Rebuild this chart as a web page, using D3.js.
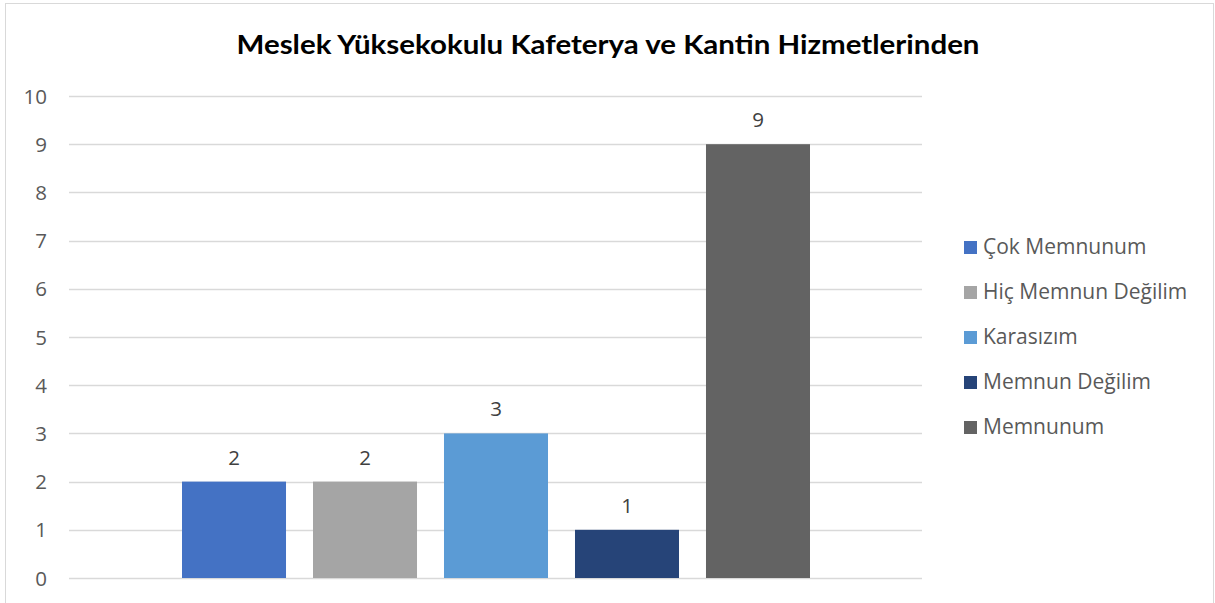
<!DOCTYPE html>
<html><head><meta charset="utf-8">
<script src="https://cdn.jsdelivr.net/npm/d3@7"></script>
<style>body{margin:0;background:#fff;} svg{display:block;} text{font-family:"Open Sans",sans-serif;} .ttl{font-family:Lato,"Open Sans",sans-serif;}</style>
</head><body><svg id="c" width="1215" height="603"></svg>
<script>
const title = "Meslek Yüksekokulu Kafeterya ve Kantin Hizmetlerinden";
const categories = ["Çok Memnunum","Hiç Memnun Değilim","Karasızım","Memnun Değilim","Memnunum"];
const values = [2,2,3,1,9];
const colors = ["#4472C4","#A5A5A5","#5B9BD5","#264478","#636363"];
const yTicks = [0,1,2,3,4,5,6,7,8,9,10];

const svg = d3.select("#c");
svg.append("rect").attr("x",5.5).attr("y",3.5).attr("width",1208).attr("height",620)
  .attr("fill","#fff").attr("stroke","#d9d9d9").attr("stroke-width",1);

svg.append("text").attr("class","ttl").attr("x",608).attr("y",54).attr("text-anchor","middle")
  .attr("font-size",26).attr("font-weight","bold").attr("fill","#000")
  .attr("textLength",743).attr("lengthAdjust","spacingAndGlyphs").text(title);

const y = d3.scaleLinear().domain([0,10]).range([578,96]);
const x = d3.scaleBand().domain(categories).range([69,923]).paddingInner(0.206).paddingOuter(0.8626);

const grid = svg.append("g");
grid.selectAll("line").data(yTicks).join("line")
  .attr("x1",69).attr("x2",922).attr("y1",d=>Math.round(y(d))+0.5).attr("y2",d=>Math.round(y(d))+0.5)
  .attr("stroke","#d9d9d9").attr("stroke-width",1.3);
grid.selectAll("text").data(yTicks).join("text")
  .attr("x",47).attr("y",d=>y(d)+7.5).attr("text-anchor","end")
  .attr("font-size",20.5).attr("fill","#595959").text(d=>d);

svg.append("g").selectAll("rect").data(values).join("rect")
  .attr("x",(d,i)=>x(categories[i])).attr("width",x.bandwidth())
  .attr("y",d=>y(d)).attr("height",d=>y(0)-y(d)).attr("fill",(d,i)=>colors[i]);

svg.append("g").selectAll("text").data(values).join("text")
  .attr("x",(d,i)=>x(categories[i])+x.bandwidth()/2).attr("y",d=>y(d)-17)
  .attr("text-anchor","middle").attr("font-size",20.5).attr("fill","#404040").text(d=>d);

const lg = svg.append("g");
categories.forEach((c,i)=>{
  const yy = 254 + i*45;
  lg.append("rect").attr("x",964).attr("y",yy-13).attr("width",13).attr("height",13).attr("fill",colors[i]);
  lg.append("text").attr("x",983).attr("y",yy).attr("font-size",21).attr("fill","#595959").text(c);
});
</script></body></html>
